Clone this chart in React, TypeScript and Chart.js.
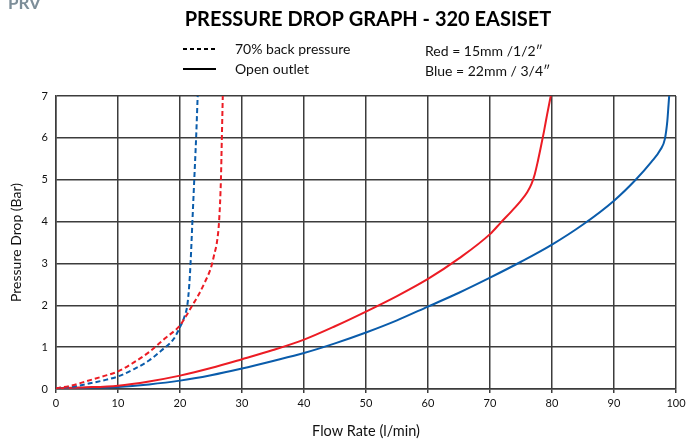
import React, { useEffect, useRef } from "react";
import { Chart, registerables } from "chart.js";

Chart.register(...registerables);

const TITLE = "PRESSURE DROP GRAPH - 320 EASISET";
const CORNER_LABEL = "PRV";
const LEGEND_DASHED = "70% back pressure";
const LEGEND_SOLID = "Open outlet";
const NOTE_RED = "Red = 15mm /1/2\u2033";
const NOTE_BLUE = "Blue = 22mm / 3/4\u2033";
const X_TITLE = "Flow Rate (l/min)";
const Y_TITLE = "Pressure Drop (Bar)";

const RED = "#ec1c24";
const BLUE = "#0a5cab";
const GRID = "#3c3c3c";

const redSolidX = [0, 5, 10, 15, 20, 25, 30, 35, 40, 45, 50, 55, 60, 65, 70, 71.7, 73.5, 75, 76, 76.7, 77.2, 77.7, 78.2, 78.7, 79.2, 79.8];
const redSolidY = [0.02, 0.04, 0.08, 0.18, 0.32, 0.5, 0.71, 0.93, 1.18, 1.5, 1.85, 2.22, 2.63, 3.12, 3.7, 3.97, 4.25, 4.5, 4.7, 4.9, 5.12, 5.43, 5.78, 6.15, 6.55, 7.0];

const blueSolidX = [0, 5, 10, 15, 20, 25, 30, 35, 40, 45, 50, 55, 60, 65, 70, 75, 80, 85, 90, 93.5, 96, 97.5, 98.2, 98.6, 98.8, 98.9];
const blueSolidY = [0.02, 0.03, 0.05, 0.11, 0.2, 0.33, 0.49, 0.67, 0.86, 1.09, 1.35, 1.64, 1.97, 2.3, 2.66, 3.04, 3.45, 3.93, 4.5, 5.0, 5.42, 5.72, 5.97, 6.4, 6.8, 7.0];

const redDashX = [0, 2.5, 5, 7.5, 10, 12.5, 15, 17.5, 20, 21, 22, 23, 24, 25, 25.5, 26, 26.3, 26.6, 26.75, 26.9];
const redDashY = [0.02, 0.08, 0.19, 0.3, 0.42, 0.63, 0.88, 1.2, 1.52, 1.75, 2.0, 2.25, 2.55, 2.9, 3.2, 3.55, 4.0, 5.0, 6.0, 7.0];

const blueDashX = [0, 2.5, 5, 7.5, 10, 12.5, 15, 17, 19, 20, 20.7, 21.2, 21.5, 21.7, 22.0, 22.3, 22.6, 22.85];
const blueDashY = [0.02, 0.05, 0.12, 0.2, 0.3, 0.47, 0.68, 0.92, 1.2, 1.48, 1.72, 2.02, 2.5, 3.0, 4.0, 5.0, 6.0, 7.0];

const xTicks = [0, 10, 20, 30, 40, 50, 60, 70, 80, 90, 100];
const yTicks = [0, 1, 2, 3, 4, 5, 6, 7];

const FONT = "Lato, 'Open Sans', sans-serif";

function pts(xs: number[], ys: number[]) {
  return xs.map((x, i) => ({ x, y: ys[i] }));
}

const headerPlugin = {
  id: "header",
  afterDraw(chart: any) {
    const ctx = chart.ctx;
    ctx.save();
    ctx.fillStyle = "#7d8e99";
    ctx.font = `bold 17px ${FONT}`;
    ctx.textBaseline = "alphabetic";
    ctx.textAlign = "left";
    ctx.fillText(CORNER_LABEL, 8, 9);

    ctx.fillStyle = "#000";
    ctx.font = `bold 20px ${FONT}`;
    ctx.textAlign = "center";
    ctx.textBaseline = "middle";
    ctx.fillText(TITLE, 368, 20);

    ctx.font = `14px ${FONT}`;
    ctx.textAlign = "left";
    ctx.fillStyle = "#111";
    ctx.fillText(LEGEND_DASHED, 235, 49);
    ctx.fillText(LEGEND_SOLID, 235, 69);
    ctx.fillText(NOTE_RED, 425, 51);
    ctx.fillText(NOTE_BLUE, 425, 71);

    ctx.strokeStyle = "#000";
    ctx.lineWidth = 2;
    ctx.setLineDash([4, 3]);
    ctx.beginPath();
    ctx.moveTo(183, 49);
    ctx.lineTo(216, 49);
    ctx.stroke();
    ctx.setLineDash([]);
    ctx.beginPath();
    ctx.moveTo(183, 69);
    ctx.lineTo(216, 69);
    ctx.stroke();
    ctx.restore();
  },
};

export default function App() {
  const ref = useRef<HTMLCanvasElement | null>(null);

  useEffect(() => {
    if (!ref.current) return;
    const ds = (label: string, xs: number[], ys: number[], color: string, dashed: boolean) => ({
      label,
      data: pts(xs, ys),
      borderColor: color,
      backgroundColor: color,
      borderWidth: 2,
      borderDash: dashed ? [5, 3] : [],
      pointRadius: 0,
      showLine: true,
      fill: false,
      cubicInterpolationMode: "monotone" as const,
    });
    const chart = new Chart(ref.current, {
      type: "scatter",
      data: {
        datasets: [
          ds("Red dashed", redDashX, redDashY, RED, true),
          ds("Blue dashed", blueDashX, blueDashY, BLUE, true),
          ds("Red solid", redSolidX, redSolidY, RED, false),
          ds("Blue solid", blueSolidX, blueSolidY, BLUE, false),
        ],
      },
      options: {
        animation: false,
        responsive: false,
        devicePixelRatio: 1,
        layout: { padding: { top: 96, right: 24, left: 0, bottom: 0 } },
        plugins: { legend: { display: false }, tooltip: { enabled: false }, title: { display: false } },
        scales: {
          x: {
            type: "linear",
            min: 0,
            max: 100,
            afterFit: (s: any) => {
              s.height = 52;
            },
            afterBuildTicks: (s: any) => {
              s.ticks = xTicks.map((v) => ({ value: v }));
            },
            ticks: { color: "#111", font: { family: FONT, size: 11 }, padding: 4, maxRotation: 0 },
            grid: { color: GRID, lineWidth: 1.5, tickLength: 4, drawTicks: true },
            border: { color: GRID, width: 1.5 },
            title: { display: true, text: X_TITLE, color: "#111", font: { family: FONT, size: 14.5 }, padding: { top: 0, bottom: 1 } },
          },
          y: {
            type: "linear",
            min: 0,
            max: 7,
            afterFit: (s: any) => {
              s.width = 56;
            },
            afterBuildTicks: (s: any) => {
              s.ticks = yTicks.map((v) => ({ value: v }));
            },
            ticks: { color: "#111", font: { family: FONT, size: 11 }, padding: 8 },
            grid: { color: GRID, lineWidth: 1.5, drawTicks: false },
            border: { color: GRID, width: 1.5 },
            title: { display: true, text: Y_TITLE, color: "#111", font: { family: FONT, size: 14 }, padding: { top: 8, bottom: 0 } },
          },
        },
      },
      plugins: [headerPlugin],
    });
    return () => chart.destroy();
  }, []);

  return (
    <div style={{ position: "fixed", left: 0, top: 0, width: 700, height: 441, background: "#fff" }}>
      <canvas ref={ref} width={700} height={441} />
    </div>
  );
}
